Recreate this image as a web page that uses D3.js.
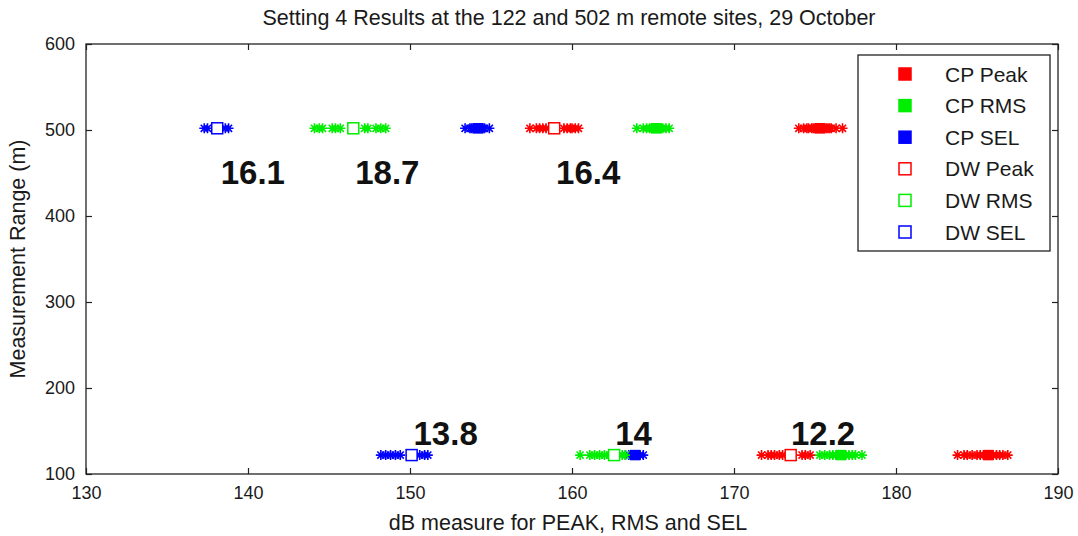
<!DOCTYPE html>
<html>
<head>
<meta charset="utf-8">
<script src="https://cdn.jsdelivr.net/npm/d3@7"></script>
<style>
  body { margin: 0; background: #fff; }
  text { font-family: "Liberation Sans", Arial, sans-serif; fill: #1a1a1a; }
</style>
</head>
<body>
<div id="chart"></div>
<script>
// measurement ranges (m)
const ranges = [122, 502];

// individual events (dB), one list per series and site
const cpPeak122 = [183.8, 184.2, 184.4, 184.7, 185.0, 185.2, 185.4, 185.6, 185.8, 186.0, 186.2, 186.4, 186.6, 186.9];
const cpRms122  = [175.3, 175.6, 175.9, 176.1, 176.3, 176.5, 176.7, 176.9, 177.1, 177.3, 177.5, 177.9];
const cpSel122  = [163.3, 163.5, 163.7, 163.9, 164.0, 164.2, 164.4];
const dwPeak122 = [171.7, 172.1, 172.3, 172.5, 172.8, 173.0, 174.2, 174.4, 174.7];
const dwRms122  = [160.5, 161.1, 161.4, 161.7, 162.0, 162.3, 163.1, 163.3];
const dwSel122  = [148.2, 148.5, 148.8, 149.1, 149.4, 150.6, 150.9, 151.1];

const cpPeak502 = [174.0, 174.3, 174.5, 174.6, 174.8, 174.9, 175.0, 175.1, 175.2, 175.3, 175.4, 175.5, 175.6, 175.7, 175.8, 175.9, 176.0, 176.3, 176.7];
const cpRms502  = [164.0, 164.4, 164.6, 164.8, 164.9, 165.0, 165.1, 165.2, 165.3, 165.4, 165.5, 165.6, 165.8, 166.0];
const cpSel502  = [153.4, 153.7, 153.8, 153.9, 154.0, 154.1, 154.2, 154.3, 154.4, 154.5, 154.6, 154.9];
const dwPeak502 = [157.4, 157.8, 158.0, 158.2, 158.4, 159.5, 159.7, 159.9, 160.0, 160.2, 160.4];
const dwRms502  = [144.1, 144.4, 144.6, 145.2, 145.4, 145.7, 147.2, 147.4, 147.9, 148.2, 148.5];
const dwSel502  = [137.3, 137.5, 138.6, 138.8];

// mean levels, order: Peak, RMS, SEL
const cpMean122 = [185.7, 176.6, 163.9];
const dwMean122 = [173.5, 162.6, 150.1];
const cpMean502 = [175.3, 165.2, 154.2];
const dwMean502 = [158.9, 146.5, 138.1];

// CP minus DW differences written on the plot
const diffText = ["16.1", "18.7", "16.4", "13.8", "14", "12.2"];
const diffX    = [140.3, 148.6, 161.0, 152.2, 163.8, 175.5];
const diffY    = [451, 451, 451, 148, 148, 148];

const xTicks = [130, 140, 150, 160, 170, 180, 190];
const yTicks = [100, 200, 300, 400, 500, 600];

const metrics = ["Peak", "RMS", "SEL"];
const colors = ["#ff0000", "#00ee00", "#0000ff"];

const width = 1078, height = 536;
const margin = {top: 44, right: 20, bottom: 62, left: 86};

const svg = d3.select("#chart").append("svg")
  .attr("width", width)
  .attr("height", height);

const x = d3.scaleLinear().domain([130, 190]).range([margin.left, width - margin.right]);
const y = d3.scaleLinear().domain([100, 600]).range([height - margin.bottom, margin.top]);

// axes, ticks pointing inward on all sides (box on)
const tick = 6;
svg.append("g")
    .attr("transform", `translate(0,${y(100)})`)
  .call(d3.axisBottom(x).tickValues(xTicks).tickSizeInner(-tick).tickSizeOuter(0).tickPadding(12))
  .call(g => g.select(".domain").remove())
  .call(g => g.selectAll("text").style("font-size", "18px"));
svg.append("g")
    .attr("transform", `translate(0,${y(600)})`)
  .call(d3.axisTop(x).tickValues(xTicks).tickSizeInner(-tick).tickSizeOuter(0).tickFormat(""))
  .call(g => g.select(".domain").remove());
svg.append("g")
    .attr("transform", `translate(${x(130)},0)`)
  .call(d3.axisLeft(y).tickValues(yTicks).tickSizeInner(-tick).tickSizeOuter(0).tickPadding(11))
  .call(g => g.select(".domain").remove())
  .call(g => g.selectAll("text").style("font-size", "18px"));
svg.append("g")
    .attr("transform", `translate(${x(190)},0)`)
  .call(d3.axisRight(y).tickValues(yTicks).tickSizeInner(-tick).tickSizeOuter(0).tickFormat(""))
  .call(g => g.select(".domain").remove());

svg.selectAll(".tick line").attr("stroke", "#222").attr("stroke-width", 1.2);

svg.append("rect")
  .attr("x", x(130)).attr("y", y(600))
  .attr("width", x(190) - x(130)).attr("height", y(100) - y(600))
  .attr("fill", "none").attr("stroke", "#222").attr("stroke-width", 1.3);

// asterisk marker like matlab '*'
const star = r => {
  const d = r * 0.7071;
  return `M${-r},0L${r},0M0,${-r}L0,${r}M${-d},${-d}L${d},${d}M${-d},${d}L${d},${-d}`;
};

const events = [
  [cpPeak122, 0, 122], [cpRms122, 1, 122], [cpSel122, 2, 122],
  [dwPeak122, 0, 122], [dwRms122, 1, 122], [dwSel122, 2, 122],
  [cpPeak502, 0, 502], [cpRms502, 1, 502], [cpSel502, 2, 502],
  [dwPeak502, 0, 502], [dwRms502, 1, 502], [dwSel502, 2, 502]
];

const plot = svg.append("g");
events.forEach(([vals, m, r]) => {
  plot.append("g")
    .selectAll("path")
    .data(vals)
    .join("path")
      .attr("transform", d => `translate(${x(d)},${y(r)})`)
      .attr("d", star(5))
      .attr("stroke", colors[m])
      .attr("stroke-width", 1.6)
      .attr("fill", "none");
});

// mean squares
[[cpMean122, 122, true], [cpMean502, 502, true], [dwMean122, 122, false], [dwMean502, 502, false]]
  .forEach(([vals, r, filled]) => {
    const sq = filled ? 9 : 11;
    plot.append("g")
      .selectAll("rect")
      .data(vals)
      .join("rect")
        .attr("x", d => x(d) - sq / 2)
        .attr("y", y(r) - sq / 2)
        .attr("width", sq)
        .attr("height", sq)
        .attr("fill", (d, i) => filled ? colors[i] : "#fff")
        .attr("stroke", (d, i) => colors[i])
        .attr("stroke-width", 1.5);
  });

// difference labels
svg.append("g")
  .selectAll("text")
  .data(diffText)
  .join("text")
    .attr("x", (d, i) => x(diffX[i]))
    .attr("y", (d, i) => y(diffY[i]))
    .attr("dy", "0.36em")
    .attr("text-anchor", "middle")
    .style("font-size", "33px")
    .style("font-weight", "bold")
    .style("fill", "#111")
    .text(d => d);

// titles
svg.append("text")
  .attr("x", 569).attr("y", 25)
  .attr("text-anchor", "middle")
  .style("font-size", "21.5px")
  .text("Setting 4 Results at the 122 and 502 m remote sites, 29 October");

svg.append("text")
  .attr("x", 568).attr("y", 530)
  .attr("text-anchor", "middle")
  .style("font-size", "21.5px")
  .text("dB measure for PEAK, RMS and SEL");

svg.append("text")
  .attr("transform", `translate(25,${(y(100) + y(600)) / 2}) rotate(-90)`)
  .attr("text-anchor", "middle")
  .style("font-size", "21.5px")
  .text("Measurement Range (m)");

// legend
const legend = svg.append("g").attr("transform", "translate(858,55)");
legend.append("rect")
  .attr("width", 192).attr("height", 196)
  .attr("fill", "#fff").attr("stroke", "#222").attr("stroke-width", 1.3);

const legendItems = [
  ...metrics.map((m, i) => ({label: "CP " + m, color: colors[i], filled: true})),
  ...metrics.map((m, i) => ({label: "DW " + m, color: colors[i], filled: false}))
];
const rows = legend.selectAll("g.item")
  .data(legendItems)
  .join("g")
    .attr("class", "item")
    .attr("transform", (d, i) => `translate(0,${19 + i * 31.6})`);
rows.append("rect")
  .attr("x", 41).attr("y", -6)
  .attr("width", 12).attr("height", 12)
  .attr("fill", d => d.filled ? d.color : "#fff")
  .attr("stroke", d => d.color)
  .attr("stroke-width", 1.5);
rows.append("text")
  .attr("x", 87).attr("dy", "0.36em")
  .style("font-size", "21px")
  .text(d => d.label);
</script>
</body>
</html>
